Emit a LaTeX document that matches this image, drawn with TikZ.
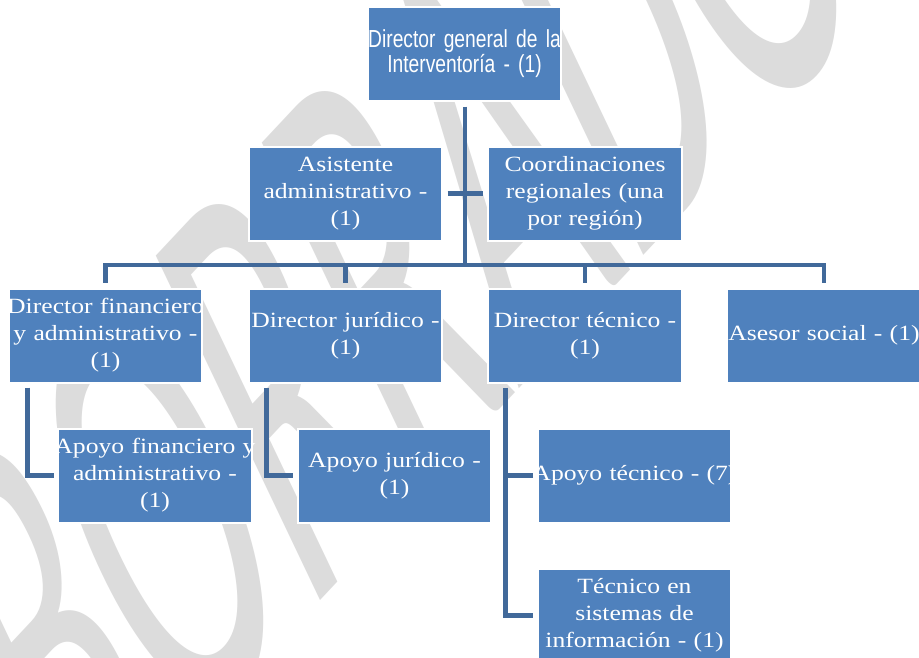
\documentclass[tikz,border=0pt]{standalone}
\usepackage{fontspec}
\newfontfamily\cambria[FakeStretch=1.18]{Liberation Serif}
\newfontfamily\arialn[FakeStretch=0.78, WordSpace=0.78]{Liberation Sans}
\newfontfamily\wmfont{Carlito}
\definecolor{boxblue}{HTML}{4F81BD}
\definecolor{lineblue}{HTML}{41699A}
\definecolor{wmgray}{HTML}{DCDCDC}
\tikzset{
  box/.style={rectangle, fill=boxblue, draw=white, line width=1.5pt,
    minimum width=145pt, minimum height=70.5pt, text width=175pt,
    inner xsep=-15pt, inner ysep=0pt, outer sep=0pt, align=center, text=white,
    font=\cambria\fontsize{16.3}{20.25}\selectfont},
  topbox/.style={box, font=\arialn\fontsize{18.5}{17}\selectfont},
  conn/.style={draw=lineblue, line width=3.6pt, line join=miter, line cap=butt},
  wm/.style={text=wmgray, font=\wmfont\fontsize{100}{100}\selectfont, inner sep=0pt}
}
\begin{document}
\begin{tikzpicture}[x=0.75pt, y=-0.75pt]
\fill[white] (0,0) rectangle (919,657);
\useasboundingbox (0,0) rectangle (919,657);
% watermark (stretched, rotated WordArt)
\begin{scope}
\clip (0,0) rectangle (919,657);
\begin{scope}[shift={(70.7,867)}]
\begin{scope}[cm={1.4625,1.56,-1.92,4.0275,(0,0)}, transform shape]
\node[wm, anchor=base west] (wmark) at (0,0) {BORRADOR};
\end{scope}
\end{scope}
\end{scope}
% boxes
\node[topbox] (top) at (464.5,53.5) {Director general de la\\Interventoría - (1)};
\node[box] (asis) at (345.5,193.5) {Asistente\\administrativo -\\(1)};
\node[box] (coord) at (585,193.5) {Coordinaciones\\regionales (una\\por región)};
\node[box] (dfa) at (105.5,335.5) {Director financiero\\y administrativo -\\(1)};
\node[box] (dj) at (345.5,335.5) {Director jurídico -\\(1)};
\node[box] (dt) at (585,335.5) {Director técnico -\\(1)};
\node[box] (as) at (824,335.5) {Asesor social - (1)};
\node[box] (afa) at (155,475.5) {Apoyo financiero y\\administrativo -\\(1)};
\node[box] (aj) at (394.5,475.5) {Apoyo jurídico -\\(1)};
\node[box] (at) at (634.5,475.5) {Apoyo técnico - (7)};
\node[box] (ts) at (634.5,615.5) {Técnico en\\sistemas de\\información - (1)};
% connectors
\coordinate (hub) at (465,265);
\draw[conn] ([yshift=-4.5pt]top.south -| hub) -- (hub);
\draw[conn] ([xshift=4pt]asis.east) -- ([xshift=-4pt]coord.west);
\draw[conn] ([yshift=4.5pt]dfa.north) |- (hub) -| ([yshift=4.5pt]as.north);
\draw[conn] ([yshift=4.5pt]dj.north) -- (dj.north |- hub);
\draw[conn] ([yshift=4.5pt]dt.north) -- (dt.north |- hub);
\coordinate (dfal) at ([xshift=14pt,yshift=-3.8pt]dfa.south west);
\coordinate (djl) at ([xshift=13.5pt,yshift=-3.8pt]dj.south west);
\coordinate (dtl) at ([xshift=12.8pt,yshift=-3.8pt]dt.south west);
\draw[conn] (dfal) |- ([xshift=-3.5pt]afa.west);
\draw[conn] (djl) |- ([xshift=-3.5pt]aj.west);
\draw[conn] (dtl) |- ([xshift=-3.5pt]ts.west);
\draw[conn] ([xshift=-3.5pt]at.west) -- (at.west -| dtl);
\end{tikzpicture}
\end{document}
